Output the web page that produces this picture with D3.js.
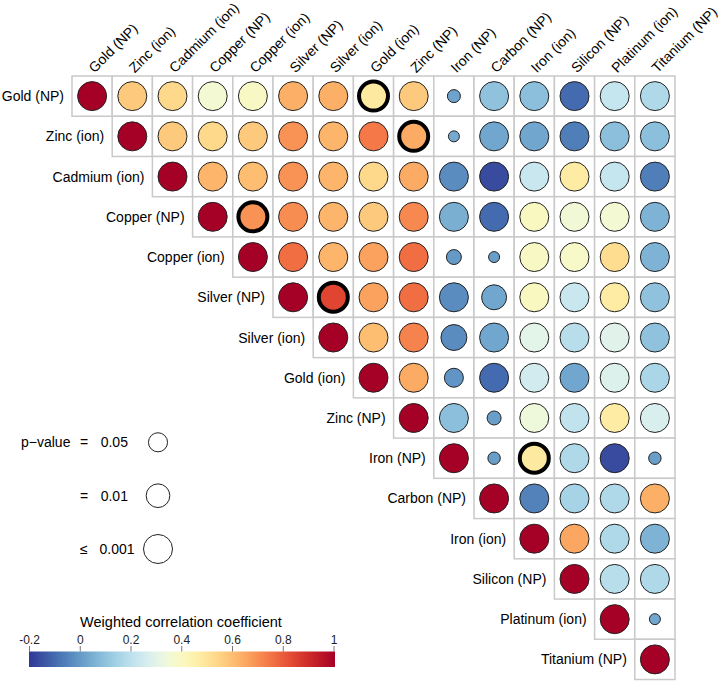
<!DOCTYPE html>
<html><head><meta charset="utf-8">
<script src="https://cdn.jsdelivr.net/npm/d3@7"></script>
<style>body{margin:0;background:#fff}svg{display:block}text{font-family:"Liberation Sans",Arial,sans-serif;fill:#000}</style>
</head><body><svg id="c" width="722" height="681"></svg>
<script>
const labels = ["Gold (NP)","Zinc (ion)","Cadmium (ion)","Copper (NP)","Copper (ion)","Silver (NP)","Silver (ion)","Gold (ion)","Zinc (NP)","Iron (NP)","Carbon (NP)","Iron (ion)","Silicon (NP)","Platinum (ion)","Titanium (NP)"];
// weighted correlation, upper triangle; each row starts at the diagonal
const corr = [
 [1,0.57,0.53,0.36,0.39,0.63,0.63,0.48,0.57,0.02,0.10,0.09,-0.10,0.22,0.17],
 [1,0.57,0.53,0.57,0.69,0.62,0.74,0.64,0.04,0.03,0.03,-0.06,0.09,0.09],
 [1,0.62,0.60,0.69,0.62,0.53,0.64,-0.03,-0.16,0.23,0.47,0.22,-0.06],
 [1,0.69,0.70,0.62,0.57,0.71,0.05,-0.10,0.40,0.35,0.36,0.06],
 [1,0.76,0.62,0.66,0.76,0.00,0.01,0.39,0.38,0.52,0.06],
 [1,0.84,0.66,0.76,-0.03,0.03,0.40,0.23,0.47,0.10],
 [1,0.60,0.72,-0.03,0.03,0.30,0.19,0.29,0.10],
 [1,0.64,-0.01,-0.10,0.25,0.03,0.28,0.16],
 [1,0.09,0.01,0.34,0.21,0.47,0.27],
 [1,0.01,0.48,0.17,-0.16,0.01],
 [1,-0.05,0.15,0.17,0.63],
 [1,0.65,0.17,0.06],
 [1,0.19,0.17],
 [1,0.03],
 [1]
];
// p-values that are not <= 0.001: [row, column, p]
const pvalues = [
 [0,9,0.25],[1,9,0.37],[4,9,0.16],[4,10,0.37],[5,10,0.006],[6,9,0.004],
 [7,9,0.052],[8,10,0.2],[9,10,0.28],[9,14,0.28],[13,14,0.37]
];
const pDefault = 0.0005;
// same-element NP / ion pairs (thick outline)
const highlightPairs = [[0,7],[1,8],[3,4],[5,6],[9,11]];
const colorTicks = [-0.2,0,0.2,0.4,0.6,0.8,1];
const colorTickLabels = ["-0.2","0","0.2","0.4","0.6","0.8","1"];
const pLegendValues = [0.05,0.01,0.001];
const pLegendLabels = [["p\u2212value","=","0.05"],["","=","0.01"],["","\u2264","0.001"]];

const svg = d3.select("#c");
const n = labels.length;
const x = d3.scaleBand().domain(d3.range(n)).range([72,675]);
const y = d3.scaleBand().domain(d3.range(n)).range([76,679.5]);
const bw = x.bandwidth(), bh = y.bandwidth();
const color = d3.scaleSequential(t => d3.interpolateRdYlBu(1 - t)).domain([-0.2, 1]);
const rScale = d3.scaleSqrt().domain([0, 3]).range([0, 14.5]).clamp(true);
const radius = p => rScale(Math.min(3, -Math.log10(p)));

const pMap = new Map(pvalues.map(d => [d[0] + "-" + d[1], d[2]]));
const hiSet = new Set(highlightPairs.map(d => d[0] + "-" + d[1]));
const cells = [];
corr.forEach((row, i) => row.forEach((v, k) => {
  const j = i + k;
  const key = i + "-" + j;
  cells.push({i, j, v, p: pMap.has(key) ? pMap.get(key) : pDefault, hi: hiSet.has(key)});
}));

// grid cells
svg.append("g").selectAll("rect").data(cells).join("rect")
  .attr("x", d => x(d.j)).attr("y", d => y(d.i))
  .attr("width", bw).attr("height", bh)
  .attr("fill", "#fff").attr("stroke", "#c9c9c9").attr("stroke-width", 1.5);

// circles
svg.append("g").selectAll("circle").data(cells).join("circle")
  .attr("cx", d => x(d.j) + bw / 2).attr("cy", d => y(d.i) + bh / 2)
  .attr("r", d => radius(d.p))
  .attr("fill", d => color(d.v))
  .attr("stroke", d => d.hi ? "#000" : "#222")
  .attr("stroke-width", d => d.hi ? 4 : 1);

// row labels
svg.append("g").selectAll("text").data(labels).join("text")
  .attr("x", (d, i) => x(i) - 8).attr("y", (d, i) => y(i) + bh / 2 + 5)
  .attr("text-anchor", "end").attr("font-size", 14).text(d => d);

// column labels
svg.append("g").selectAll("text").data(labels).join("text")
  .attr("transform", (d, i) => `translate(${x(i) + bw / 2 + 2.5},73.5) rotate(-45)`)
  .attr("text-anchor", "start").attr("font-size", 14).text(d => d);

// p-value legend
const pl = svg.append("g");
const pY = [442.3, 495.7, 549];
pLegendValues.forEach((p, k) => {
  const lab = pLegendLabels[k];
  if (lab[0]) pl.append("text").attr("x", 21).attr("y", pY[k] + 5).attr("font-size", 14).text(lab[0]);
  pl.append("text").attr("x", 80).attr("y", pY[k] + 5).attr("font-size", 14).text(lab[1]);
  pl.append("text").attr("x", k === 2 ? 99.5 : 100.7).attr("y", pY[k] + 5).attr("font-size", 14).text(lab[2]);
  pl.append("circle").attr("cx", 158).attr("cy", pY[k]).attr("r", radius(p))
    .attr("fill", "#fff").attr("stroke", "#222").attr("stroke-width", 1);
});

// colour bar
const cb = d3.scaleLinear().domain([-0.2, 1]).range([29.5, 334]);
const defs = svg.append("defs");
const grad = defs.append("linearGradient").attr("id", "g");
d3.range(0, 1.0001, 0.025).forEach(t => grad.append("stop")
  .attr("offset", t).attr("stop-color", color(-0.2 + 1.2 * t)));
svg.append("rect").attr("x", 29).attr("y", 651.5).attr("width", 306).attr("height", 15.5)
  .attr("fill", "url(#g)");
svg.append("text").attr("x", 181).attr("y", 626.5).attr("text-anchor", "middle")
  .attr("font-size", 14.5).text("Weighted correlation coefficient");
const tg = svg.append("g");
colorTicks.forEach((t, k) => {
  tg.append("line").attr("x1", cb(t)).attr("x2", cb(t)).attr("y1", 646).attr("y2", 651.5)
    .attr("stroke", "#555").attr("stroke-width", 0.8);
  tg.append("text").attr("x", cb(t)).attr("y", 644).attr("text-anchor", "middle")
    .attr("font-size", 12).style("fill", "#222").text(colorTickLabels[k]);
});
</script></body></html>
